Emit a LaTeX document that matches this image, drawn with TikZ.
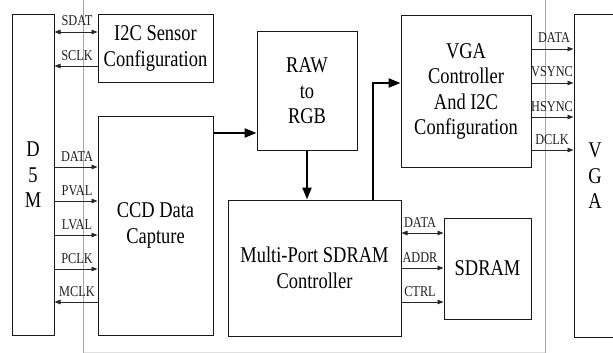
\documentclass[tikz,border=0pt]{standalone}
\usepackage{fontspec}
\setmainfont{Liberation Serif}
\newfontfamily\condfont[FakeStretch=0.82]{Liberation Serif}
\usetikzlibrary{arrows.meta}
\begin{document}
\begin{tikzpicture}[x=1pt,y=-1pt,
  box/.style={draw=black!90, line width=1pt, inner sep=0pt, align=center,
    font=\condfont\fontsize{22.5}{25.5}\selectfont},
  bigtxt/.style={font=\condfont\fontsize{22.5}{25.5}\selectfont, align=center, inner sep=0pt},
  sig/.style={draw=black!85, line width=0.8pt, -{Triangle[length=6pt,width=4.5pt]}},
  sigb/.style={sig, {Triangle[length=6pt,width=4.5pt]}-{Triangle[length=6pt,width=4.5pt]}},
  lab/.style={font=\condfont\fontsize{15}{15}\selectfont, text=black!88, inner sep=0pt, anchor=base},
  bus/.style={draw=black, line width=2.2pt, -{Triangle[length=12pt,width=9pt]}},
  guide/.style={draw=black!35, line width=0.8pt},
  faint/.style={draw=black!12, line width=0.8pt}]
\useasboundingbox (0,0) rectangle (613,353);
\clip (0,0) rectangle (613,353);
% guide lines
\coordinate (g1t) at (83,0);
\coordinate (g1b) at (83,353);
\coordinate (g2t) at (545,0);
\coordinate (g2b) at (545,353);
\coordinate (fb1) at (83,352);
\coordinate (fb2) at (545,352);
\draw[faint] (fb1) -- (fb2);
\draw[guide] (g1t) -- (g1b);
\draw[guide] (g2t) -- (g2b);
% boxes
\node[box, minimum width=42pt, minimum height=320pt] (d5m) at (33,175) {};
\node[bigtxt] (d5mtxt) at (33,175) {D\\5\\M};
\node[box, minimum width=115pt, minimum height=67pt] (i2c) at (155.5,48.5) {I2C Sensor\\Configuration};
\node[box, minimum width=115pt, minimum height=219pt] (ccd) at (155.5,225.5) {CCD Data\\Capture};
\node[box, minimum width=100pt, minimum height=118pt] (raw) at (307,91) {RAW\\to\\RGB};
\node[box, minimum width=173pt, minimum height=136pt] (multi) at (314.5,268) {Multi-Port SDRAM\\Controller};
\node[box, minimum width=130pt, minimum height=151pt] (vgac) at (466,91.5) {VGA\\Controller\\And I2C\\Configuration};
\node[box, minimum width=87pt, minimum height=101pt] (sdram) at (487.5,268.5) {SDRAM};
\node[box, minimum width=70pt, minimum height=322pt] (vga) at (609,176) {};
\node[bigtxt] (vgatxt) at (595,176) {V\\G\\A};
% D5M <-> I2C
\draw[sigb] (d5m.east |- 0,32) -- (i2c.west |- 0,32);
\node[lab] (lsdat) at (77,26) {SDAT};
\draw[sig] (i2c.west |- 0,66) -- (d5m.east |- 0,66);
\node[lab] (lsclk) at (77,60) {SCLK};
% D5M <-> CCD
\draw[sig] (d5m.east |- 0,167) -- (ccd.west |- 0,167);
\node[lab] (ldata1) at (77,161) {DATA};
\draw[sig] (d5m.east |- 0,201) -- (ccd.west |- 0,201);
\node[lab] (lpval) at (77,195) {PVAL};
\draw[sig] (d5m.east |- 0,235) -- (ccd.west |- 0,235);
\node[lab] (llval) at (77,229) {LVAL};
\draw[sig] (d5m.east |- 0,269) -- (ccd.west |- 0,269);
\node[lab] (lpclk) at (77,263) {PCLK};
\draw[sig] (ccd.west |- 0,302) -- (d5m.east |- 0,302);
\node[lab] (lmclk) at (77,296) {MCLK};
% main data path
\draw[bus] (ccd.east |- 0,133) -- (raw.west |- 0,133);
\draw[bus] (raw.south) -- (raw.south |- multi.north);
\draw[bus] (multi.north -| 373,0) |- (vgac.west |- 0,83);
% Multi <-> SDRAM
\draw[sigb] (multi.east |- 0,233) -- (sdram.west |- 0,233);
\node[lab] (ldata2) at (420,227) {DATA};
\draw[sig] (multi.east |- 0,268) -- (sdram.west |- 0,268);
\node[lab] (laddr) at (420,262) {ADDR};
\draw[sig] (multi.east |- 0,302) -- (sdram.west |- 0,302);
\node[lab] (lctrl) at (420,296) {CTRL};
% VGA ctrl -> VGA
\draw[sig] (vgac.east |- 0,49) -- (vga.west |- 0,49);
\node[lab] (ldata3) at (554,43) {DATA};
\draw[sig] (vgac.east |- 0,83) -- (vga.west |- 0,83);
\node[lab] (lvsync) at (552,77) {VSYNC};
\draw[sig] (vgac.east |- 0,117) -- (vga.west |- 0,117);
\node[lab] (lhsync) at (552,111) {HSYNC};
\draw[sig] (vgac.east |- 0,150) -- (vga.west |- 0,150);
\node[lab] (ldclk) at (552,144) {DCLK};
\end{tikzpicture}
\end{document}
